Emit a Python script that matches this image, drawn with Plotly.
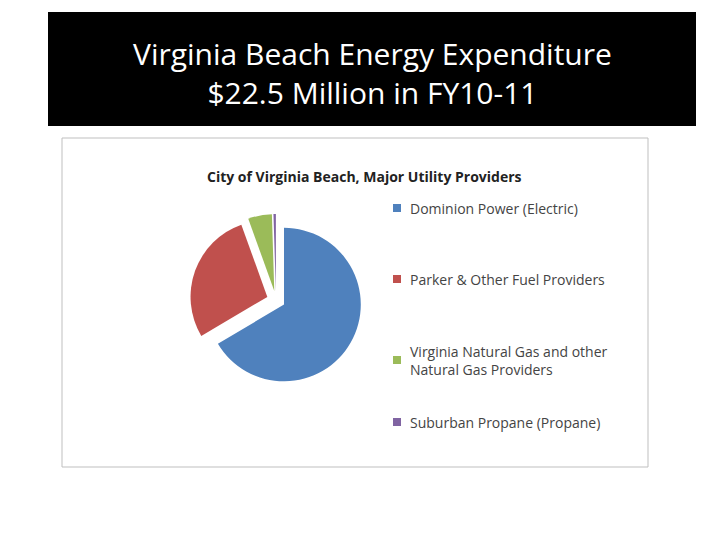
import plotly.graph_objects as go

providers = ['Dominion Power (Electric)', 'Parker & Other Fuel Providers',
             'Virginia Natural Gas and other<br>Natural Gas Providers', 'Suburban Propane (Propane)']
shares = [66.5, 28.0, 5.0, 0.5]
colors = ['#4F81BD', '#C0504D', '#9BBB59', '#8064A2']

OFF = 8  # page body margin


def px(x):
    return (x - OFF) / 720


def py(y):
    return 1 - (y - OFF) / 540


fig = go.Figure(go.Pie(
    labels=providers, values=shares, sort=False, direction='clockwise', rotation=0,
    marker=dict(colors=colors), pull=[0.12, 0.12, 0.12, 0.12],
    textinfo='none', showlegend=False,
    domain=dict(x=[px(190), px(362)], y=[py(386), py(214)]),
))

# black title banner and chart frame
fig.add_shape(type='rect', xref='paper', yref='paper', x0=px(48), x1=px(696),
              y0=py(126), y1=py(12), fillcolor='black', line_width=0, layer='below')
fig.add_shape(type='rect', xref='paper', yref='paper', x0=px(62), x1=px(648),
              y0=py(467), y1=py(138), fillcolor='white', line=dict(color='#BFBFBF', width=1), layer='below')
fig.add_annotation(text='Virginia Beach Energy Expenditure<br>$22.5 Million in FY10-11',
                   xref='paper', yref='paper', x=px(372), y=py(73), yanchor='middle', showarrow=False,
                   font=dict(size=30, color='white', family='Open Sans'))
fig.add_annotation(text='<b>City of Virginia Beach, Major Utility Providers</b>',
                   xref='paper', yref='paper', x=px(364), y=py(177), yanchor='middle', showarrow=False,
                   font=dict(size=14, color='#222', family='Open Sans'))

# manual legend
legend_y = [208, 279, 360, 422]
for name, col, ly in zip(providers, colors, legend_y):
    fig.add_shape(type='rect', xref='paper', yref='paper',
                  x0=px(393), x1=px(401), y0=py(ly + 4), y1=py(ly - 4),
                  fillcolor=col, line_width=0)
    fig.add_annotation(text=name, xref='paper', yref='paper', x=px(408), y=py(ly),
                       xanchor='left', yanchor='middle', align='left', showarrow=False,
                       font=dict(size=14, color='#444', family='Open Sans'))

fig.update_layout(width=720, height=540, margin=dict(l=0, r=0, t=0, b=0),
                  paper_bgcolor='white')
fig.write_html('out.html')
